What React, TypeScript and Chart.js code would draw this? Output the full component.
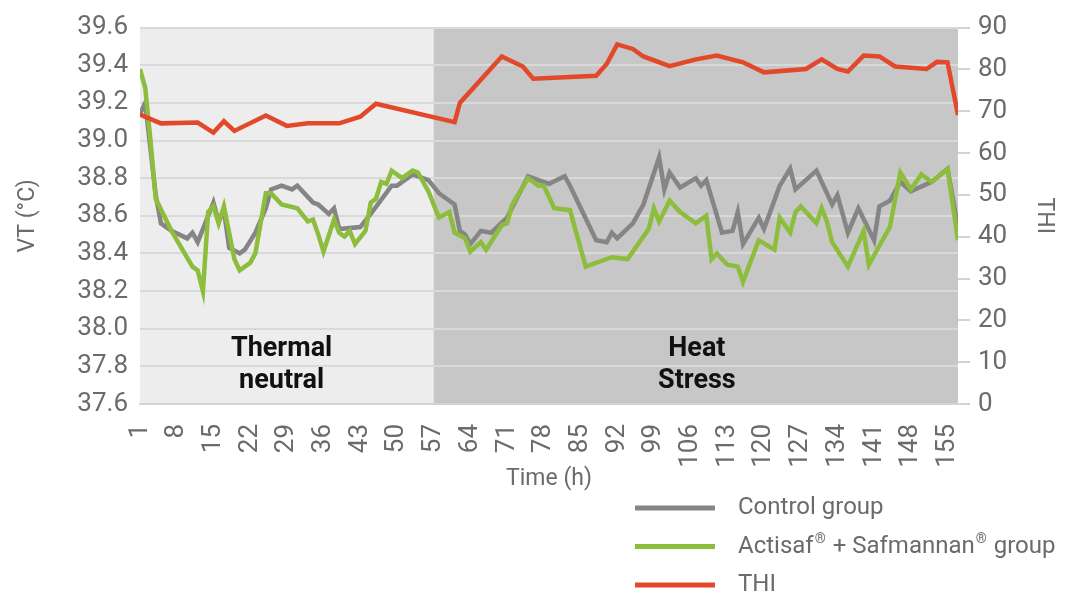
import React, { useEffect, useRef } from 'react';
import { Chart, registerables } from 'chart.js';

Chart.register(...registerables);

// ---------- data ----------
const xTickHours = [1, 8, 15, 22, 29, 36, 43, 50, 57, 64, 71, 78, 85, 92, 99, 106, 113, 120, 127, 134, 141, 148, 155];
const vtTicks = [37.6, 37.8, 38.0, 38.2, 38.4, 38.6, 38.8, 39.0, 39.2, 39.4, 39.6];
const thiTicks = [0, 10, 20, 30, 40, 50, 60, 70, 80, 90];

const controlHours = [1, 2, 4, 5, 7, 10, 11, 12, 15, 16, 17, 18, 20, 21, 23, 25, 26, 28, 30, 31, 34, 35, 37, 38, 39, 43, 45, 49, 50, 53, 54, 56, 58, 61, 62, 63, 64, 66, 68, 71, 75, 79, 82, 83, 88, 90, 91, 92, 95, 97, 100, 101, 102, 104, 107, 108, 109, 112, 114, 115, 116, 119, 120, 123, 125, 126, 130, 133, 134, 136, 138, 141, 142, 144, 146, 148, 152, 155, 157];
const controlVT = [39.14, 39.20, 38.71, 38.56, 38.52, 38.48, 38.51, 38.46, 38.67, 38.57, 38.63, 38.43, 38.40, 38.42, 38.51, 38.64, 38.74, 38.76, 38.74, 38.76, 38.67, 38.66, 38.61, 38.64, 38.53, 38.54, 38.61, 38.76, 38.76, 38.82, 38.81, 38.79, 38.72, 38.66, 38.52, 38.50, 38.45, 38.52, 38.51, 38.59, 38.81, 38.77, 38.81, 38.76, 38.47, 38.46, 38.51, 38.48, 38.56, 38.66, 38.91, 38.74, 38.83, 38.75, 38.80, 38.76, 38.79, 38.51, 38.52, 38.62, 38.45, 38.59, 38.53, 38.76, 38.85, 38.74, 38.84, 38.66, 38.71, 38.51, 38.64, 38.47, 38.65, 38.68, 38.78, 38.73, 38.78, 38.85, 38.54];

const actisafHours = [1, 2, 3, 4, 7, 11, 12, 13, 14, 15, 16, 17, 19, 20, 22, 23, 25, 26, 28, 31, 33, 34, 35, 36, 38, 39, 40, 41, 42, 44, 45, 46, 47, 48, 49, 51, 53, 54, 56, 58, 60, 61, 63, 64, 66, 67, 70, 71, 72, 75, 77, 78, 80, 83, 86, 91, 94, 98, 99, 100, 102, 104, 107, 109, 110, 111, 113, 115, 116, 119, 122, 123, 125, 126, 127, 130, 131, 132, 133, 136, 139, 140, 144, 146, 148, 150, 152, 155, 157];
const actisafVT = [39.38, 39.28, 39.0, 38.69, 38.52, 38.33, 38.31, 38.20, 38.62, 38.65, 38.56, 38.65, 38.37, 38.31, 38.35, 38.40, 38.72, 38.72, 38.66, 38.64, 38.57, 38.58, 38.50, 38.41, 38.58, 38.51, 38.49, 38.52, 38.45, 38.52, 38.67, 38.69, 38.78, 38.77, 38.84, 38.80, 38.84, 38.83, 38.73, 38.59, 38.62, 38.51, 38.48, 38.41, 38.46, 38.42, 38.55, 38.56, 38.66, 38.80, 38.76, 38.76, 38.64, 38.63, 38.33, 38.38, 38.37, 38.53, 38.64, 38.57, 38.68, 38.62, 38.56, 38.60, 38.37, 38.40, 38.34, 38.33, 38.25, 38.47, 38.42, 38.59, 38.51, 38.62, 38.65, 38.56, 38.64, 38.57, 38.46, 38.33, 38.52, 38.34, 38.54, 38.83, 38.74, 38.82, 38.78, 38.85, 38.47];

const thiHours = [1, 5, 12, 15, 17, 19, 25, 29, 33, 39, 43, 46, 61, 62, 70, 74, 76, 88, 90, 92, 95, 97, 102, 107, 111, 116, 120, 128, 131, 134, 136, 139, 142, 145, 151, 153, 155, 157];
const thiValues = [69.2, 67.1, 67.3, 64.9, 67.6, 65.3, 69.0, 66.5, 67.1, 67.1, 68.7, 71.8, 67.4, 72.0, 83.1, 80.7, 77.8, 78.5, 81.3, 86.0, 84.9, 83.1, 80.8, 82.4, 83.3, 81.7, 79.3, 80.1, 82.4, 80.1, 79.5, 83.3, 83.1, 80.7, 80.1, 81.8, 81.7, 69.1];

const seriesNames = ['Control group', 'Actisaf® + Safmannan® group', 'THI'];
const seriesColors = ['#858585', '#8cbd3c', '#e2492a'];

const zoneNames = [['Thermal', 'neutral'], ['Heat', 'Stress']];
const zoneStart = [1, 57];
const zoneEnd = [57, 157];
const zoneLabelHour = [28, 107.2];

// ---------- helpers ----------
const zip = (xs: number[], ys: number[]) => xs.map((x, i) => ({ x, y: ys[i] }));

const FONT = 'Roboto, "Noto Sans", sans-serif';
const TEXT_GREY = '#6b6b6b';

const backgroundPlugin = {
  id: 'zones',
  beforeDraw(chart: any) {
    const { ctx, chartArea, scales } = chart;
    const fills = ['#ededed', '#c7c7c7'];
    ctx.save();
    zoneStart.forEach((s, i) => {
      const x0 = scales.x.getPixelForValue(s);
      const x1 = scales.x.getPixelForValue(zoneEnd[i]);
      ctx.fillStyle = fills[i];
      ctx.fillRect(x0, chartArea.top, x1 - x0, chartArea.bottom - chartArea.top);
    });
    ctx.restore();
  },
};

const zoneTextPlugin = {
  id: 'zoneText',
  afterDatasetsDraw(chart: any) {
    const { ctx, scales } = chart;
    ctx.save();
    ctx.font = `bold 27px ${FONT}`;
    ctx.fillStyle = '#111111';
    ctx.textAlign = 'center';
    ctx.textBaseline = 'middle';
    zoneNames.forEach((lines, i) => {
      const x = scales.x.getPixelForValue(zoneLabelHour[i]);
      const y0 = scales.y.getPixelForValue(37.89);
      lines.forEach((t, j) => ctx.fillText(t, x, y0 + j * 32));
    });
    ctx.restore();
  },
};

function drawRich(ctx: CanvasRenderingContext2D, text: string, x: number, y: number, size: number) {
  const parts = text.split('®');
  let cx = x;
  parts.forEach((p, i) => {
    ctx.font = `${size}px ${FONT}`;
    ctx.fillText(p, cx, y);
    cx += ctx.measureText(p).width;
    if (i < parts.length - 1) {
      ctx.font = `${Math.round(size * 0.6)}px ${FONT}`;
      ctx.fillText('®', cx + 1, y - size * 0.3);
      cx += ctx.measureText('®').width + 2;
    }
  });
}

const legendPlugin = {
  id: 'customLegend',
  afterDraw(chart: any) {
    const { ctx } = chart;
    ctx.save();
    ctx.textBaseline = 'middle';
    ctx.textAlign = 'left';
    seriesNames.forEach((name, i) => {
      const y = 508 + i * 38.5;
      ctx.strokeStyle = seriesColors[i];
      ctx.lineWidth = 5;
      ctx.beginPath();
      ctx.moveTo(635, y);
      ctx.lineTo(715, y);
      ctx.stroke();
      ctx.fillStyle = TEXT_GREY;
      drawRich(ctx, name, 738, y, 24);
    });
    ctx.restore();
  },
};

export default function App() {
  const ref = useRef<HTMLCanvasElement | null>(null);

  useEffect(() => {
    if (!ref.current) return;
    const tickFont = { family: FONT, size: 26 };
    const titleFont = { family: FONT, size: 23 };
    const chart = new Chart(ref.current, {
      type: 'line',
      data: {
        datasets: [
          {
            label: seriesNames[2],
            data: zip(thiHours, thiValues),
            borderColor: seriesColors[2],
            borderWidth: 4.5,
            pointRadius: 0,
            yAxisID: 'y1',
            order: 0,
          },
          {
            label: seriesNames[1],
            data: zip(actisafHours, actisafVT),
            borderColor: seriesColors[1],
            borderWidth: 4.5,
            pointRadius: 0,
            yAxisID: 'y',
            order: 1,
          },
          {
            label: seriesNames[0],
            data: zip(controlHours, controlVT),
            borderColor: seriesColors[0],
            borderWidth: 4.5,
            pointRadius: 0,
            yAxisID: 'y',
            order: 2,
          },
        ],
      },
      options: {
        animation: false,
        responsive: false,
        maintainAspectRatio: false,
        layout: { padding: { top: 24, bottom: 100, left: 0, right: 0 } },
        plugins: { legend: { display: false }, tooltip: { enabled: false } },
        elements: { line: { tension: 0, borderJoinStyle: 'miter' } },
        scales: {
          x: {
            type: 'linear',
            min: 1,
            max: 157,
            afterBuildTicks: (scale: any) => {
              scale.ticks = xTickHours.map((v) => ({ value: v }));
            },
            afterFit: (scale: any) => {
              scale.height = 98;
            },
            ticks: {
              autoSkip: false,
              minRotation: 90,
              maxRotation: 90,
              padding: 12,
              color: TEXT_GREY,
              font: tickFont,
              callback: (v: any) => String(v),
            },
            grid: { display: false },
            border: { display: true, color: '#d3d3d3', width: 2 },
            title: {
              display: true,
              text: 'Time (h)',
              color: TEXT_GREY,
              font: titleFont,
              padding: { top: 0, bottom: 9 },
            },
          },
          y: {
            position: 'left',
            min: 37.6,
            max: 39.6,
            afterBuildTicks: (scale: any) => {
              scale.ticks = vtTicks.map((v) => ({ value: v }));
            },
            afterFit: (scale: any) => {
              scale.width = 140;
            },
            ticks: {
              padding: 12,
              color: TEXT_GREY,
              font: tickFont,
              callback: (v: any) => Number(v).toFixed(1),
            },
            grid: { color: '#d9d9d9', lineWidth: 2, drawTicks: false },
            border: { display: false },
            title: {
              display: true,
              text: 'VT (°C)',
              color: TEXT_GREY,
              font: titleFont,
              padding: { top: 14, bottom: 0 },
            },
          },
          y1: {
            position: 'right',
            min: 0,
            max: 90,
            afterBuildTicks: (scale: any) => {
              scale.ticks = thiTicks.map((v) => ({ value: v }));
            },
            afterFit: (scale: any) => {
              scale.width = 122;
            },
            ticks: {
              padding: 8,
              color: TEXT_GREY,
              font: tickFont,
            },
            grid: {
              drawOnChartArea: false,
              drawTicks: true,
              tickLength: 12,
              color: '#d3d3d3',
              lineWidth: 2,
            },
            border: { display: false },
            title: {
              display: true,
              text: 'THI',
              color: TEXT_GREY,
              font: titleFont,
              padding: { top: 22, bottom: 0 },
            },
          },
        },
      },
      plugins: [backgroundPlugin, zoneTextPlugin, legendPlugin],
    } as any);
    return () => chart.destroy();
  }, []);

  return (
    <div style={{ position: 'absolute', left: 0, top: 0, width: 1080, height: 602, background: '#ffffff' }}>
      <canvas ref={ref} width={1080} height={602} style={{ width: 1080, height: 602, display: 'block' }} />
    </div>
  );
}
